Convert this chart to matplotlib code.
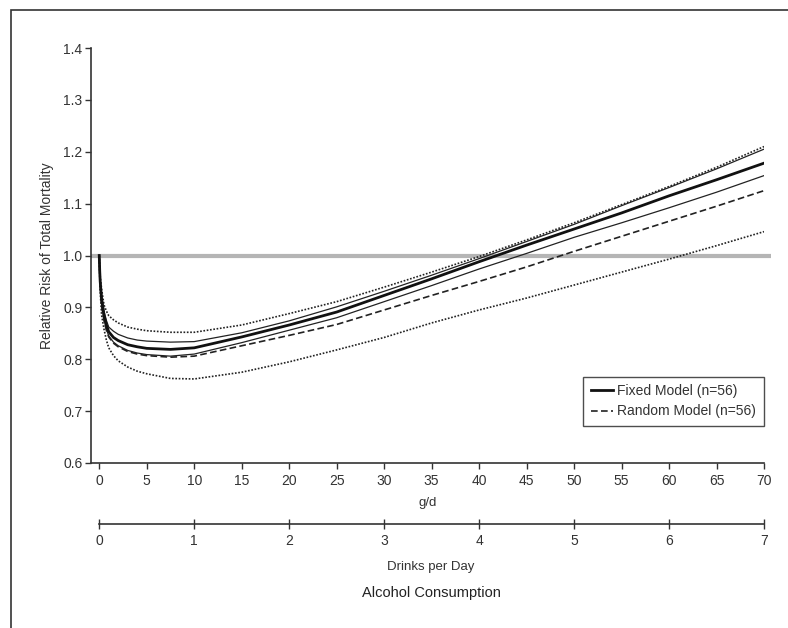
import matplotlib
matplotlib.use('Agg')
import matplotlib.pyplot as plt
from matplotlib import font_manager
from matplotlib.patches import Rectangle

# grams of alcohol per day
grams = [0, 0.05, 0.1, 0.25, 0.5, 0.75, 1, 1.5, 2, 3, 4, 5, 7.5, 10, 15, 20, 25, 30, 35, 40,
         45, 50, 55, 60, 65, 70]

fixed_rr = [1.000, 0.970, 0.950, 0.915, 0.885, 0.866, 0.853, 0.842, 0.836, 0.828, 0.824, 0.821,
            0.819, 0.822, 0.843, 0.866, 0.891, 0.923, 0.955, 0.988, 1.020, 1.051, 1.082, 1.115,
            1.146, 1.178]
fixed_hi = [1.000, 0.973, 0.955, 0.925, 0.893, 0.875, 0.862, 0.854, 0.848, 0.841, 0.837, 0.835,
            0.833, 0.834, 0.851, 0.874, 0.901, 0.931, 0.962, 0.994, 1.027, 1.060, 1.096, 1.131,
            1.167, 1.205]
fixed_lo = [1.000, 0.967, 0.945, 0.905, 0.877, 0.858, 0.845, 0.833, 0.826, 0.817, 0.812, 0.809,
            0.806, 0.810, 0.832, 0.856, 0.880, 0.911, 0.942, 0.974, 1.004, 1.035, 1.063, 1.092,
            1.122, 1.154]

random_rr = [1.000, 0.967, 0.945, 0.903, 0.875, 0.856, 0.843, 0.831, 0.824, 0.815, 0.810, 0.807,
             0.804, 0.806, 0.826, 0.846, 0.867, 0.895, 0.923, 0.950, 0.978, 1.008, 1.037, 1.066,
             1.095, 1.125]
random_hi = [1.000, 0.978, 0.960, 0.935, 0.905, 0.893, 0.884, 0.876, 0.870, 0.862, 0.858, 0.855,
             0.852, 0.852, 0.866, 0.888, 0.911, 0.939, 0.968, 0.998, 1.030, 1.063, 1.098, 1.133,
             1.170, 1.210]
random_lo = [1.000, 0.960, 0.930, 0.885, 0.858, 0.837, 0.822, 0.807, 0.797, 0.785, 0.777, 0.772,
             0.763, 0.762, 0.775, 0.795, 0.818, 0.842, 0.870, 0.895, 0.918, 0.943, 0.968, 0.993,
             1.019, 1.046]

gd_ticks = list(range(0, 75, 5))
drink_ticks = list(range(0, 8))
y_ticks = [0.6, 0.7, 0.8, 0.9, 1.0, 1.1, 1.2, 1.3, 1.4]

names = {f.name for f in font_manager.fontManager.ttflist}
fam = 'Liberation Sans Narrow' if 'Liberation Sans Narrow' in names else 'Liberation Sans'
plt.rcParams['font.family'] = [fam, 'DejaVu Sans']

txt = '#333333'
W, H = 788, 628

fig = plt.figure(figsize=(W / 100, H / 100), dpi=100)
fig.patch.set_facecolor('white')

# outer frame (only left and top edges visible in the picture)
fig.add_artist(Rectangle((11 / W, -0.5), 2, 1 - 10 / H + 0.5, transform=fig.transFigure,
                         fill=False, edgecolor='#333333', linewidth=1.2))

ax = fig.add_axes([90.7 / W, 1 - 463 / H, (764 - 90.7) / W, (463 - 48) / H])
ax.set_xlim(-0.9, 70)
ax.set_ylim(0.6, 1.4)

ax.hlines(1.0, -0.9, 70.7, color='#b5b5b5', linewidth=3, clip_on=False, zorder=1)

ax.plot(grams, random_hi, color='#222222', linewidth=1.2, linestyle=(0, (1, 1)), zorder=2)
ax.plot(grams, random_lo, color='#222222', linewidth=1.2, linestyle=(0, (1, 1)), zorder=2)
ax.plot(grams, fixed_hi, color='#222222', linewidth=0.9, zorder=3)
ax.plot(grams, fixed_lo, color='#222222', linewidth=0.9, zorder=3)
ax.plot(grams, random_rr, color='#222222', linewidth=1.2, linestyle=(0, (4, 2)), zorder=3,
        label='Random Model (n=56)')
ax.plot(grams, fixed_rr, color='#111111', linewidth=2.0, zorder=4, label='Fixed Model (n=56)')

for s in ['top', 'right']:
    ax.spines[s].set_visible(False)
for s in ['left', 'bottom']:
    ax.spines[s].set_color('#333333')
    ax.spines[s].set_linewidth(1.2)

ax.set_yticks(y_ticks)
ax.set_yticklabels(['%.1f' % v for v in y_ticks])
ax.set_xticks(gd_ticks)
ax.tick_params(axis='both', direction='out', length=4, width=1, color='#333333',
               labelcolor=txt, labelsize=10)
ax.tick_params(axis='y', pad=2)
ax.tick_params(axis='x', pad=4)

ax.set_xlabel('g/d', fontsize=9.5, color=txt)
ax.xaxis.set_label_coords(0.5, -0.083)
ax.set_ylabel('Relative Risk of Total Mortality', fontsize=10, color=txt)
ax.yaxis.set_label_coords(-0.055, 0.5)

handles, labels = ax.get_legend_handles_labels()
leg = ax.legend(handles[::-1], labels[::-1], loc='lower right', bbox_to_anchor=(1.0, 0.089),
                borderaxespad=0, frameon=True, fancybox=False, fontsize=10,
                handlelength=1.6, handletextpad=0.3, labelspacing=0.45, borderpad=0.55)
leg.get_frame().set_edgecolor('#222222')
leg.get_frame().set_linewidth(1.0)
for t in leg.get_texts():
    t.set_color(txt)

# second scale: drinks per day
ax2 = fig.add_axes([99.3 / W, 1 - 524 / H, (764 - 99.3) / W, 0.0001])
ax2.set_xlim(0, 7)
ax2.set_yticks([])
ax2.patch.set_visible(False)
for s in ['top', 'right', 'left']:
    ax2.spines[s].set_visible(False)
ax2.spines['bottom'].set_color('#333333')
ax2.spines['bottom'].set_linewidth(1.2)
ax2.set_xticks(drink_ticks)
ax2.tick_params(axis='x', direction='inout', length=7, width=1, color='#333333',
                labelcolor=txt, labelsize=10, pad=4)

fig.text(431 / W, 1 - 567 / H, 'Drinks per Day', ha='center', va='center', fontsize=9.5, color=txt)
fig.text(431 / W, 1 - 593 / H, 'Alcohol Consumption', ha='center', va='center', fontsize=10.5,
         color='#222222')

fig.savefig('out.png', dpi=100)
